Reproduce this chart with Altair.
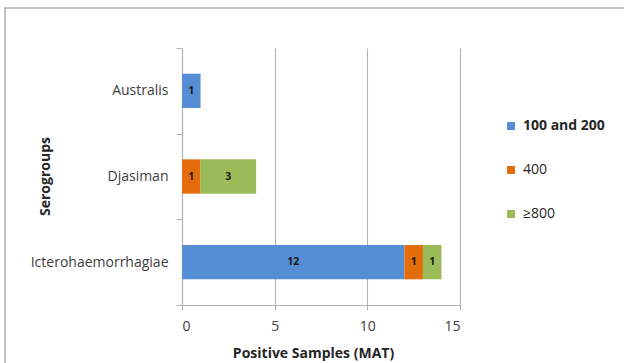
import altair as alt
import pandas as pd

serogroups = ["Australis", "Djasiman", "Icterohaemorrhagiae"]
titer_levels = ["100 and 200", "400", "≥800"]
counts_100_200 = [1, 0, 12]
counts_400 = [0, 1, 1]
counts_800 = [0, 3, 1]
colors = ["#558ED5", "#E46C0A", "#9BBB59"]

rows = []
for i, g in enumerate(serogroups):
    for j, (t, c) in enumerate(zip(titer_levels, [counts_100_200[i], counts_400[i], counts_800[i]])):
        if c > 0:
            rows.append({"serogroup": g, "titer": t, "count": c, "order": j})
df = pd.DataFrame(rows)

FONT = "Open Sans"
GRAY = "#b3b3b3"

y_enc = alt.Y(
    "serogroup:N",
    sort=serogroups,
    scale=alt.Scale(paddingInner=0, paddingOuter=0),
    axis=alt.Axis(
        title="Serogroups",
        titleFontWeight="bold",
        titleFontSize=14,
        titleColor="#262626",
        titleX=-137,
        titleY=128,
        titleBaseline="middle",
        labelFontSize=14,
        labelColor="#404040",
        labelPadding=8,
        tickBand="extent",
        tickSize=6,
        tickColor=GRAY,
        domainColor=GRAY,
        grid=False,
    ),
)

x_scale = alt.Scale(domain=[0, 15], nice=False)

bars = alt.Chart(df).mark_bar(height={"band": 0.4}).encode(
    y=y_enc,
    x=alt.X(
        "count:Q",
        stack="zero",
        scale=x_scale,
        axis=alt.Axis(
            values=[0, 5, 10, 15],
            grid=True,
            gridColor=GRAY,
            gridWidth=1.2,
            tickSize=5,
            tickColor=GRAY,
            domainColor=GRAY,
            labelFontSize=14,
            labelColor="#404040",
            labelPadding=9,
            title="Positive Samples (MAT)",
            titleFontWeight="bold",
            titleFontSize=14,
            titleColor="#262626",
            titleX=131,
            titleY=48,
            titleBaseline="middle",
        ),
    ),
    color=alt.Color(
        "titer:N",
        scale=alt.Scale(domain=titer_levels, range=colors),
        legend=alt.Legend(
            title=None,
            orient="none",
            legendX=322,
            legendY=71,
            symbolType="square",
            symbolSize=64,
            symbolStrokeWidth=0,
            labelFontSize=14,
            labelColor="#262626",
            labelOffset=5,
            rowPadding=30,
            labelFontWeight=alt.ExprRef("datum.label == '100 and 200' ? 'bold' : 'normal'"),
        ),
    ),
    order=alt.Order("order:Q"),
)

labels = alt.Chart(df).transform_stack(
    stack="count",
    groupby=["serogroup"],
    as_=["x0", "x1"],
    sort=[alt.SortField("order")],
).transform_calculate(
    mid="(datum.x0 + datum.x1) / 2"
).mark_text(fontSize=10.5, fontWeight="bold", color="#1a1a1a", font=FONT).encode(
    x=alt.X("mid:Q", scale=x_scale),
    y=alt.Y("serogroup:N", sort=serogroups),
    text="count:Q",
)

frame = alt.Chart(pd.DataFrame({"a": [0]})).mark_rect(
    fillOpacity=0, stroke="#b0b0b0", strokeWidth=1.5
).encode(
    x=alt.value(-177), x2=alt.value(460), y=alt.value(-40), y2=alt.value(330)
)

chart = alt.layer(frame, bars, labels).properties(
    width=278,
    height=257,
    autosize=alt.AutoSizeParams(type="none"),
    padding={"left": 182, "top": 48, "right": 164, "bottom": 58},
).configure(font=FONT).configure_view(strokeWidth=0)

chart.save("out.html", embed_options={"renderer": "svg", "actions": False})
